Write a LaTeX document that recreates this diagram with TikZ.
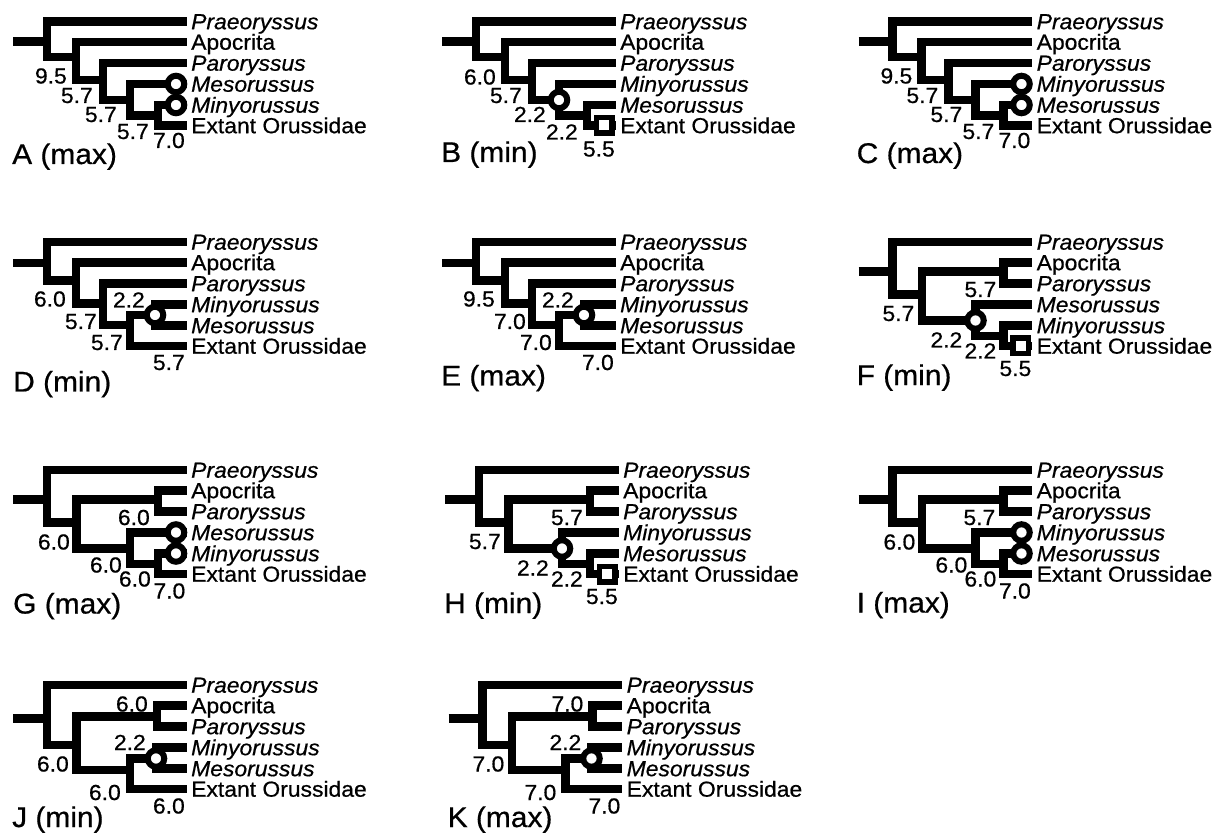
\documentclass[tikz,border=0pt]{standalone}
\usepackage{fontspec}
\setmainfont{Liberation Sans}[FakeStretch=1.05,FakeBold=0.6]
\newcommand\tPra{\textit{Praeoryssus}}
\newcommand\tApo{Apocrita}
\newcommand\tPar{\textit{Paroryssus}}
\newcommand\tMes{\textit{Mesorussus}}
\newcommand\tMin{\textit{Minyorussus}}
\newcommand\tExt{Extant Orussidae}
\tikzset{
 br/.style={line width=8.7pt},
 tip/.style={font=\fontsize{21.8}{21.8}\selectfont, inner sep=0pt, anchor=base west},
 num/.style={font=\fontsize{21.8}{21.8}\selectfont, inner sep=0pt, anchor=base east},
 plab/.style={font=\fontsize{28.5}{28.5}\selectfont, inner sep=0pt, anchor=base west},
 cmark/.style={circle, draw, fill=white, line width=6pt, minimum size=16.5pt, inner sep=0pt},
 smark/.style={rectangle, draw, fill=white, line width=5.5pt, minimum size=15.5pt, inner sep=0pt},
}
% tips and their labels
\newcommand\cladeTips[7]{%
 \coordinate (#1t1) at (186.5,21.5);
 \coordinate (#1t2) at (186.5,42);
 \coordinate (#1t3) at (186.5,63);
 \coordinate (#1t4) at (186.5,84);
 \coordinate (#1t5) at (186.5,105);
 \coordinate (#1t6) at (186.5,125.5);
 \node[tip] (#1L1) at (191,29.2) {#2};
 \node[tip] (#1L2) at (191,49.7) {#3};
 \node[tip] (#1L3) at (191,70.7) {#4};
 \node[tip] (#1L4) at (191,91.7) {#5};
 \node[tip] (#1L5) at (191,112.7) {#6};
 \node[tip] (#1L6) at (191,133.2) {#7};
}
% (P,(Ap,(Pa,(t4,(t5,t6)))))
\newcommand\ladderA[1]{%
 \coordinate (#1r) at (13,41.5);
 \coordinate (#1n1) at (47,41.5);
 \coordinate (#1n2) at (76,57);
 \coordinate (#1n3) at (103,80);
 \coordinate (#1n4) at (130,100);
 \coordinate (#1n5) at (158,115.5);
 \draw[br] (#1r) -- (#1n1);
 \draw[br] (#1n1) |- (#1t1);
 \draw[br] (#1n1) |- (#1n2);
 \draw[br] (#1n2) |- (#1t2);
 \draw[br] (#1n2) |- (#1n3);
 \draw[br] (#1n3) |- (#1t3);
 \draw[br] (#1n3) |- (#1n4);
 \draw[br] (#1n4) |- (#1t4);
 \draw[br] (#1n4) |- (#1n5);
 \draw[br] (#1n5) |- (#1t5);
 \draw[br] (#1n5) |- (#1t6);
}
% (P,(Ap,(Pa,((t4,t5),t6))))
\newcommand\ladderB[1]{%
 \coordinate (#1r) at (13,42.5);
 \coordinate (#1n1) at (47,42.5);
 \coordinate (#1n2) at (76,60);
 \coordinate (#1n3) at (103,83);
 \coordinate (#1n4) at (130,104.5);
 \coordinate (#1n5) at (155,94.5);
 \draw[br] (#1r) -- (#1n1);
 \draw[br] (#1n1) |- (#1t1);
 \draw[br] (#1n1) |- (#1n2);
 \draw[br] (#1n2) |- (#1t2);
 \draw[br] (#1n2) |- (#1n3);
 \draw[br] (#1n3) |- (#1t3);
 \draw[br] (#1n3) |- (#1n4);
 \draw[br] (#1n4) |- (#1n5);
 \draw[br] (#1n4) |- (#1t6);
 \draw[br] (#1n5) |- (#1t4);
 \draw[br] (#1n5) |- (#1t5);
}
% (P,((Ap,Pa),(t4,(t5,t6))))
\newcommand\forkG[1]{%
 \coordinate (#1r) at (13,51);
 \coordinate (#1n1) at (47,51);
 \coordinate (#1n2) at (76.5,74);
 \coordinate (#1na) at (158,51);
 \coordinate (#1n3) at (130,100);
 \coordinate (#1n4) at (158,115.5);
 \draw[br] (#1r) -- (#1n1);
 \draw[br] (#1n1) |- (#1t1);
 \draw[br] (#1n1) |- (#1n2);
 \draw[br] (#1n2) |- (#1na);
 \draw[br] (#1n2) |- (#1n3);
 \draw[br] (#1na) |- (#1t2);
 \draw[br] (#1na) |- (#1t3);
 \draw[br] (#1n3) |- (#1t4);
 \draw[br] (#1n3) |- (#1n4);
 \draw[br] (#1n4) |- (#1t5);
 \draw[br] (#1n4) |- (#1t6);
}
% (P,((Ap,Pa),((t4,t5),t6)))
\newcommand\forkJ[1]{%
 \coordinate (#1r) at (13,55);
 \coordinate (#1n1) at (47,55);
 \coordinate (#1n2) at (76.5,81.5);
 \coordinate (#1na) at (157,53);
 \coordinate (#1n3) at (130,106.5);
 \coordinate (#1n4) at (156,95);
 \draw[br] (#1r) -- (#1n1);
 \draw[br] (#1n1) |- (#1t1);
 \draw[br] (#1n1) |- (#1n2);
 \draw[br] (#1n2) |- (#1na);
 \draw[br] (#1n2) |- (#1n3);
 \draw[br] (#1na) |- (#1t2);
 \draw[br] (#1na) |- (#1t3);
 \draw[br] (#1n3) |- (#1n4);
 \draw[br] (#1n3) |- (#1t6);
 \draw[br] (#1n4) |- (#1t4);
 \draw[br] (#1n4) |- (#1t5);
}
\begin{document}
\begin{tikzpicture}[x=1pt,y=-1pt]
\fill[white] (0,0) rectangle (1219,834);
\useasboundingbox (0,0) rectangle (1219,834);

% ---------- A ----------
\begin{scope}[shift={(0,0)}]
 \cladeTips{A}{\tPra}{\tApo}{\tPar}{\tMes}{\tMin}{\tExt}
 \ladderA{A}
 \node[cmark] (Am1) at (176,84) {};
 \node[cmark] (Am2) at (176,105) {};
 \node[num] (Av1) at (67,83.5) {9.5};
 \node[num] (Av2) at (93,103) {5.7};
 \node[num] (Av3) at (117,122) {5.7};
 \node[num] (Av4) at (149,139) {5.7};
 \node[num] (Av5) at (185,148) {7.0};
 \node[plab] (Ap) at (12,164) {A (max)};
\end{scope}

% ---------- B ----------
\begin{scope}[shift={(429,0)}]
 \cladeTips{B}{\tPra}{\tApo}{\tPar}{\tMin}{\tMes}{\tExt}
 \ladderA{B}
 \node[cmark] (Bm1) at (Bn4) {};
 \node[smark] (Bm2) at (175,125.5) {};
 \node[num] (Bv1) at (67,84.5) {6.0};
 \node[num] (Bv2) at (93,103) {5.7};
 \node[num] (Bv3) at (117,122) {2.2};
 \node[num] (Bv4) at (149,139.5) {2.2};
 \node[num] (Bv5) at (186,156.5) {5.5};
 \node[plab] (Bp) at (12,162) {B (min)};
\end{scope}

% ---------- C ----------
\begin{scope}[shift={(845.5,0)}]
 \cladeTips{C}{\tPra}{\tApo}{\tPar}{\tMin}{\tMes}{\tExt}
 \ladderA{C}
 \node[cmark] (Cm1) at (176,84) {};
 \node[cmark] (Cm2) at (176,105) {};
 \node[num] (Cv1) at (67,83.5) {9.5};
 \node[num] (Cv2) at (93,103) {5.7};
 \node[num] (Cv3) at (117,122) {5.7};
 \node[num] (Cv4) at (149,139) {5.7};
 \node[num] (Cv5) at (185,148) {7.0};
 \node[plab] (Cp) at (11,163) {C (max)};
\end{scope}

% ---------- D ----------
\begin{scope}[shift={(0,220.5)}]
 \cladeTips{D}{\tPra}{\tApo}{\tPar}{\tMin}{\tMes}{\tExt}
 \ladderB{D}
 \node[cmark] (Dm1) at (Dn5) {};
 \node[num] (Dv1) at (66,86) {6.0};
 \node[num] (Dv2) at (145,87) {2.2};
 \node[num] (Dv3) at (97,108.5) {5.7};
 \node[num] (Dv4) at (123,129.5) {5.7};
 \node[num] (Dv5) at (185,149.5) {5.7};
 \node[plab] (Dp) at (13,171) {D (min)};
\end{scope}

% ---------- E ----------
\begin{scope}[shift={(429,220.5)}]
 \cladeTips{E}{\tPra}{\tApo}{\tPar}{\tMin}{\tMes}{\tExt}
 \ladderB{E}
 \node[cmark] (Em1) at (En5) {};
 \node[num] (Ev1) at (66,86) {9.5};
 \node[num] (Ev2) at (145,87) {2.2};
 \node[num] (Ev3) at (97,108.5) {7.0};
 \node[num] (Ev4) at (123,129.5) {7.0};
 \node[num] (Ev5) at (185,149.5) {7.0};
 \node[plab] (Ep) at (12,165) {E (max)};
\end{scope}

% ---------- F ----------
\begin{scope}[shift={(845.5,220.5)}]
 \cladeTips{F}{\tPra}{\tApo}{\tPar}{\tMes}{\tMin}{\tExt}
 \forkG{F}
 \node[cmark] (Fm1) at (Fn3) {};
 \node[smark] (Fm2) at (175,125.5) {};
 \node[num] (Fv1) at (151,76.5) {5.7};
 \node[num] (Fv2) at (69,100.5) {5.7};
 \node[num] (Fv3) at (117,127) {2.2};
 \node[num] (Fv4) at (151,138) {2.2};
 \node[num] (Fv5) at (186,155.5) {5.5};
 \node[plab] (Fp) at (11,164.5) {F (min)};
\end{scope}

% ---------- G ----------
\begin{scope}[shift={(0,448.5)}]
 \cladeTips{G}{\tPra}{\tApo}{\tPar}{\tMes}{\tMin}{\tExt}
 \forkG{G}
 \node[cmark] (Gm1) at (176,84) {};
 \node[cmark] (Gm2) at (176,105) {};
 \node[num] (Gv1) at (150,76.5) {6.0};
 \node[num] (Gv2) at (70,101) {6.0};
 \node[num] (Gv3) at (122,124) {6.0};
 \node[num] (Gv4) at (151,138) {6.0};
 \node[num] (Gv5) at (185.5,150) {7.0};
 \node[plab] (Gp) at (13,165) {G (max)};
\end{scope}

% ---------- H ----------
\begin{scope}[shift={(432,448.5)}]
 \cladeTips{H}{\tPra}{\tApo}{\tPar}{\tMin}{\tMes}{\tExt}
 \forkG{H}
 \node[cmark] (Hm1) at (Hn3) {};
 \node[smark] (Hm2) at (175,125.5) {};
 \node[num] (Hv1) at (151,76.5) {5.7};
 \node[num] (Hv2) at (69,100.5) {5.7};
 \node[num] (Hv3) at (117,127) {2.2};
 \node[num] (Hv4) at (151,138) {2.2};
 \node[num] (Hv5) at (186,155.5) {5.5};
 \node[plab] (Hp) at (12,164.5) {H (min)};
\end{scope}

% ---------- I ----------
\begin{scope}[shift={(845.5,448.5)}]
 \cladeTips{I}{\tPra}{\tApo}{\tPar}{\tMin}{\tMes}{\tExt}
 \forkG{I}
 \node[cmark] (Im1) at (176,84) {};
 \node[cmark] (Im2) at (176,105) {};
 \node[num] (Iv1) at (150,76.5) {5.7};
 \node[num] (Iv2) at (70,101) {6.0};
 \node[num] (Iv3) at (122,124) {6.0};
 \node[num] (Iv4) at (151,138) {6.0};
 \node[num] (Iv5) at (185.5,150) {7.0};
 \node[plab] (Ip) at (11,164) {I (max)};
\end{scope}

% ---------- J ----------
\begin{scope}[shift={(0,663.5)}]
 \cladeTips{J}{\tPra}{\tApo}{\tPar}{\tMin}{\tMes}{\tExt}
 \forkJ{J}
 \node[cmark] (Jm1) at (Jn4) {};
 \node[num] (Jv1) at (148,48) {6.0};
 \node[num] (Jv2) at (69,108) {6.0};
 \node[num] (Jv3) at (146,86.5) {2.2};
 \node[num] (Jv4) at (121,136.5) {6.0};
 \node[num] (Jv5) at (185,150) {6.0};
 \node[plab] (Jp) at (12,163.5) {J (min)};
\end{scope}

% ---------- K ----------
\begin{scope}[shift={(435.5,663.5)}]
 \cladeTips{K}{\tPra}{\tApo}{\tPar}{\tMin}{\tMes}{\tExt}
 \forkJ{K}
 \node[cmark] (Km1) at (Kn4) {};
 \node[num] (Kv1) at (148,48) {7.0};
 \node[num] (Kv2) at (69,108) {7.0};
 \node[num] (Kv3) at (146,86.5) {2.2};
 \node[num] (Kv4) at (121,136.5) {7.0};
 \node[num] (Kv5) at (185,150) {7.0};
 \node[plab] (Kp) at (12,163.5) {K (max)};
\end{scope}
\end{tikzpicture}
\end{document}
